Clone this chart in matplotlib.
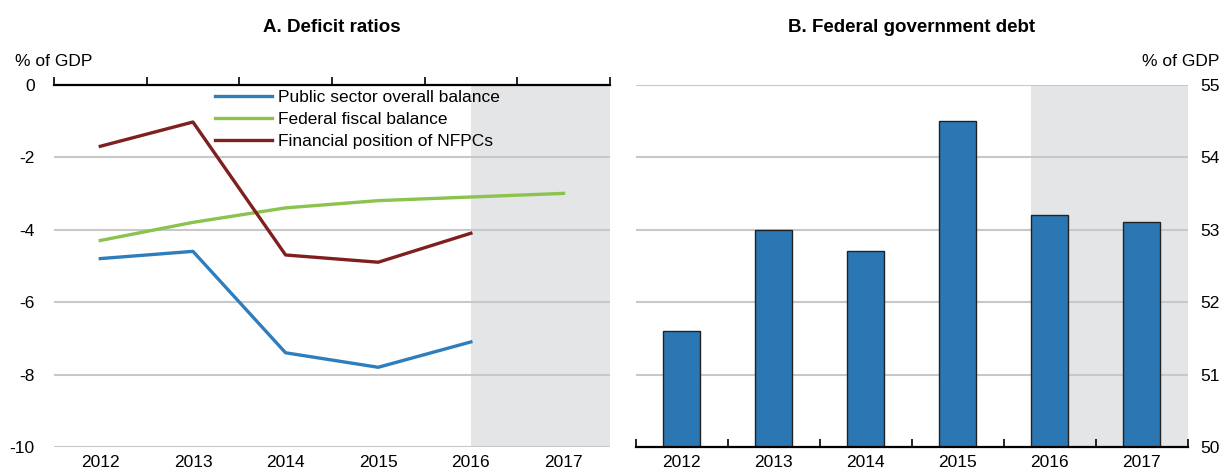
import numpy as np
import matplotlib
matplotlib.use("Agg")
import matplotlib.pyplot as plt

plt.rcParams["font.family"] = ["Liberation Sans Narrow", "Liberation Sans", "DejaVu Sans"]

# Datos
years = [2012, 2013, 2014, 2015, 2016, 2017]
public_sector = [-4.8, -4.6, -7.4, -7.8, -7.1]          # 2012-2016
federal_fiscal = [-4.3, -3.8, -3.4, -3.2, -3.1, -3.0]   # 2012-2017
nfpc = [-1.7, -1.03, -4.7, -4.9, -4.1]                  # 2012-2016
debt = [51.6, 53.0, 52.7, 54.5, 53.2, 53.1]

c_blue = "#2e7dbd"
c_green = "#8cc24e"
c_red = "#7f1f1f"
c_shade = "#e4e5e7"
c_grid = "#c8c8c8"
fs = 12.5

fig = plt.figure(figsize=(12.27, 4.74), dpi=100)
ax1 = fig.add_axes([0.044, 0.057, 0.453, 0.7643])
ax2 = fig.add_axes([0.518, 0.057, 0.450, 0.7643])

x = np.array(years)
bounds = np.arange(years[0] - 0.5, years[-1] + 1.0, 1.0)

# Panel A
ax1.axvspan(2016, years[-1] + 0.5, color=c_shade, lw=0, zorder=0)
ax1.plot(x[:len(public_sector)], public_sector, color=c_blue, lw=2.4, label="Public sector overall balance", zorder=3)
ax1.plot(x[:len(federal_fiscal)], federal_fiscal, color=c_green, lw=2.4, label="Federal fiscal balance", zorder=3)
ax1.plot(x[:len(nfpc)], nfpc, color=c_red, lw=2.4, label="Financial position of NFPCs", zorder=3)
ax1.set_xlim(bounds[0], bounds[-1])
ax1.set_ylim(-10, 0)
ax1.set_yticks([0, -2, -4, -6, -8, -10])
ax1.set_yticklabels(["0", "-2", "-4", "-6", "-8", "-10"])
ax1.set_xticks(years)
ax1.set_xticks(bounds, minor=True)
ax1.tick_params(axis="x", which="major", length=0, labelsize=fs, pad=6)
ax1.tick_params(axis="x", which="minor", bottom=False, top=True, direction="out", length=6, width=1.2)
ax1.tick_params(axis="y", length=0, labelsize=fs, pad=14)
for y in [-2, -4, -6, -8, -10]:
    ax1.axhline(y, color=c_grid, lw=1.5, zorder=1)
for s in ["left", "right", "bottom"]:
    ax1.spines[s].set_visible(False)
ax1.spines["top"].set_linewidth(1.6)
ax1.spines["top"].set_zorder(4)
leg = ax1.legend(loc="upper left", bbox_to_anchor=(0.29, 0.985), frameon=False, fontsize=fs,
                 handlelength=3.3, handletextpad=0.3, labelspacing=0.38, borderaxespad=0, borderpad=0)
ax1.set_title("A. Deficit ratios", fontsize=13.5, fontweight="bold", pad=38)
fig.text(0.012, 0.855, "% of GDP", fontsize=fs, ha="left", va="bottom")

# Panel B
ax2.axvspan(2016 - 0.2, years[-1] + 0.5, color=c_shade, lw=0, zorder=0)
for y in [51, 52, 53, 54, 55]:
    ax2.axhline(y, color=c_grid, lw=1.5, zorder=1)
ax2.bar(x, debt, width=0.4, bottom=0, color="#2a77b4", edgecolor="#222222", linewidth=1.0, zorder=3)
ax2.set_xlim(bounds[0], bounds[-1])
ax2.set_ylim(50, 55)
ax2.yaxis.tick_right()
ax2.set_yticks([50, 51, 52, 53, 54, 55])
ax2.set_xticks(years)
ax2.set_xticks(bounds, minor=True)
ax2.tick_params(axis="x", which="major", length=0, labelsize=fs, pad=6)
ax2.tick_params(axis="x", which="minor", bottom=True, direction="in", length=6, width=1.2)
ax2.tick_params(axis="y", length=0, labelsize=fs, pad=9)
for s in ["left", "right", "top"]:
    ax2.spines[s].set_visible(False)
ax2.spines["bottom"].set_linewidth(1.6)
ax2.spines["bottom"].set_zorder(4)
ax2.set_title("B. Federal government debt", fontsize=13.5, fontweight="bold", pad=38)
fig.text(0.994, 0.855, "% of GDP", fontsize=fs, ha="right", va="bottom")

fig.savefig("out.png", dpi=100)
